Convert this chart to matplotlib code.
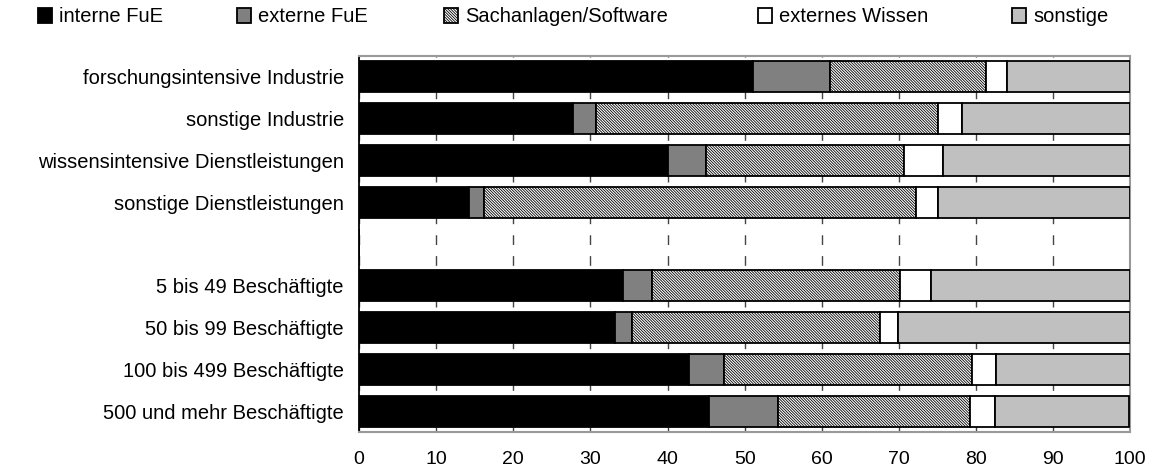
import matplotlib
matplotlib.use("Agg")
import matplotlib.pyplot as plt
import numpy as np

plt.rcParams["font.family"] = ["Liberation Sans", "DejaVu Sans"]
plt.rcParams["hatch.linewidth"] = 0.6
plt.rcParams["hatch.color"] = "#3a3a3a"

# Rows from top to bottom; empty string marks the blank separator row
categories = [
    "forschungsintensive Industrie",
    "sonstige Industrie",
    "wissensintensive Dienstleistungen",
    "sonstige Dienstleistungen",
    "",
    "5 bis 49 Beschäftigte",
    "50 bis 99 Beschäftigte",
    "100 bis 499 Beschäftigte",
    "500 und mehr Beschäftigte",
]
series = ["interne FuE", "externe FuE", "Sachanlagen/Software", "externes Wissen", "sonstige"]

interne_fue = [51.1, 27.7, 40.1, 14.3, 0, 34.2, 33.2, 42.8, 45.4]
externe_fue = [10.0, 3.0, 4.9, 1.9, 0, 3.8, 2.2, 4.5, 8.9]
sachanlagen = [20.2, 44.4, 25.7, 56.0, 0, 32.2, 32.2, 32.2, 24.9]
ext_wissen = [2.7, 3.1, 5.0, 2.9, 0, 3.9, 2.3, 3.1, 3.2]
sonstige = [16.0, 21.8, 24.3, 24.9, 0, 25.9, 30.1, 17.4, 17.4]

values = [interne_fue, externe_fue, sachanlagen, ext_wissen, sonstige]
colors = ["black", "#808080", "white", "white", "#C0C0C0"]
hatches = [None, None, "\\" * 12, None, None]
legend_x = [38, 237, 444, 758, 1012]  # left edge of each legend entry, px

fig = plt.figure(figsize=(11.49, 4.72), dpi=100)
ax = fig.add_axes([0.3125, 0.0837, 0.9837 - 0.3125, 0.8824 - 0.0837])

y = np.arange(len(categories))
left = np.zeros(len(categories))
handles = []
for name, vals, col, h in zip(series, values, colors, hatches):
    vals = np.array(vals)
    bars = ax.barh(y, vals, left=left, height=0.74, color=col, edgecolor="black",
                   linewidth=1.3, hatch=h, label=name, zorder=3)
    left += vals
    handles.append(bars)

ax.set_xlim(0, 100)
ax.set_ylim(len(categories) - 0.5, -0.5)
ax.set_xticks(np.arange(0, 101, 10))
ax.set_yticks(y)
ax.set_yticklabels(categories)
ax.tick_params(axis="y", length=0, pad=11, labelsize=14.5)
ax.tick_params(axis="x", length=0, pad=13, labelsize=14)
ax.xaxis.grid(True, color="#444444", linestyle=(0, (7, 8)), linewidth=1.0, zorder=0)
ax.set_axisbelow(True)

for side in ("top", "right", "bottom"):
    ax.spines[side].set_color("#999999")
    ax.spines[side].set_linewidth(1.5)
ax.spines["left"].set_color("black")
ax.spines["left"].set_linewidth(1.3)

for h, name, lx in zip(handles, series, legend_x):
    fig.legend(handles=[h], labels=[name], loc="center left",
               bbox_to_anchor=(lx / 1149, 1 - 17 / 472), frameon=False, fontsize=14.5,
               handlelength=0.7, handleheight=0.7, handletextpad=0.35,
               borderpad=0, borderaxespad=0)

fig.savefig("out.png", dpi=100)
